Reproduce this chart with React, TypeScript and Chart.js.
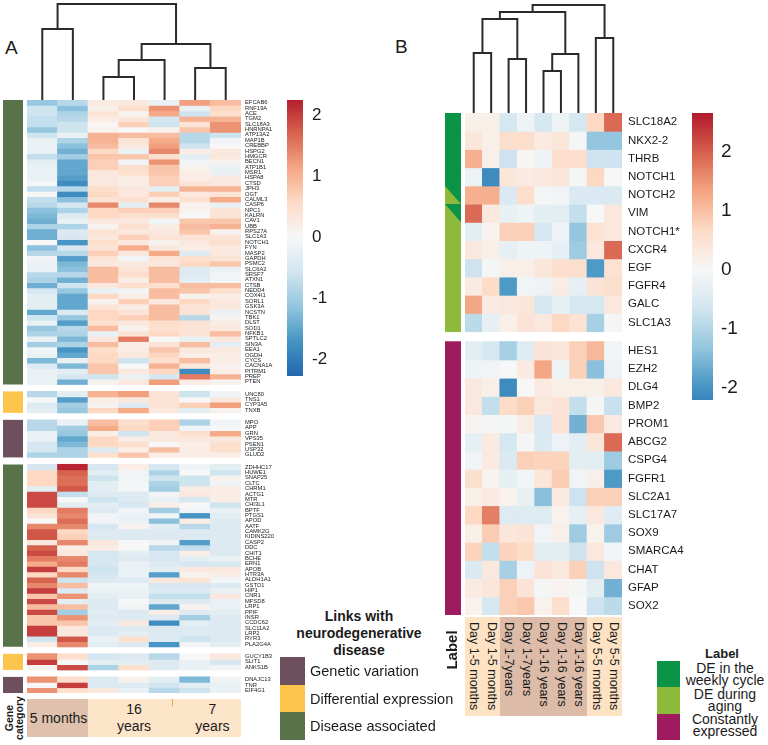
import React, { useEffect, useRef } from 'react';
import { Chart, registerables } from 'chart.js';
Chart.register(...registerables);

const FONT = '"Liberation Sans", Arial, Helvetica, sans-serif';

// ---------------- Panel A data ----------------
const A_COLUMNS = ['5 months #1', '5 months #2', '16 years #1', '16 years #2', '16 years #3', '7 years #1', '7 years #2'];
const A_GROUPS = ['5 months', '16 years', '7 years'];
const A_GROUP_SPANS = [2, 3, 2];

const A_B1_GENES = ['EFCAB6','RNF19A','ACE','TGM2','SLC18A3','HNRNPA1','ATP13A2','MAP1B','CREBBP','HSPG2','HMGCR','BECN1','ATP1B1','MSR1','HSPA8','CTSD','JPH3','OGT','CALML3','CASP6','NPC1','KALRN','CAV1','UBB','RPS27A','SLC1A3','NOTCH1','FYN','MASP2','GAPDH','PSMC2','SLC6A2','SRSF7','ATXN1','CTSB','NEDD4','COX4I1','SORL1','GSK3A','NCSTN','TBK1','DLST','SOD1','NFKB1','SPTLC2','SIN3A','EEA1','OGDH','CYCS','CACNA1A','PITRM1','PREP','PTEN'];
const A_B1_VALUES = [
  [-1.1,-0.8,0.25,0.3,-0.2,1.2,0.9],
  [-0.6,-1.2,0.15,0.5,1.3,-0.2,0.6],
  [-0.6,-0.9,0.4,0.1,1.1,-0.6,0.5],
  [-0.7,-0.8,0.2,0.35,-0.5,1.0,1.0],
  [-0.7,-0.6,0.05,0.7,-0.6,0.4,1.3],
  [-1.1,-0.6,0.1,0.0,0.1,0.8,1.3],
  [-0.6,-0.2,1.0,0.9,0.9,-0.8,-0.6],
  [-0.2,-0.9,1.0,0.4,1.1,-0.8,-0.1],
  [-0.2,-1.2,0.9,0.3,1.2,-0.6,0.0],
  [-0.2,-1.4,0.6,-0.2,1.4,0.2,0.3],
  [-0.7,-1.0,0.8,0.8,0.5,-0.3,0.3],
  [-0.3,-1.5,0.7,-0.1,1.3,-0.1,0.1],
  [-0.2,-1.5,0.7,0.5,0.8,0.1,-0.2],
  [-0.2,-1.5,0.3,0.5,0.8,0.2,-0.2],
  [-0.2,-1.6,0.3,0.2,0.7,0.2,0.3],
  [-0.05,-1.8,0.3,0.2,0.7,0.4,0.3],
  [-0.7,-0.8,0.5,0.3,-0.3,1.0,1.0],
  [0.0,-1.8,0.6,0.3,0.7,0.3,0.4],
  [-0.7,-1.2,0.4,0.5,0.2,0.5,1.1],
  [-0.8,-0.5,1.4,-0.3,1.4,0.1,-0.2],
  [-1.2,-0.9,0.6,0.7,0.7,0.1,0.4],
  [-1.3,-0.4,0.6,0.5,0.5,0.0,0.4],
  [-1.4,-0.2,0.3,0.3,-0.1,0.8,0.8],
  [-0.9,-0.9,0.1,0.5,0.2,0.9,1.0],
  [-1.4,-0.4,0.4,0.3,0.3,0.8,0.1],
  [-1.4,-0.5,0.3,0.7,0.4,0.4,0.4],
  [0.0,-1.7,0.5,0.3,0.1,0.3,0.5],
  [-1.2,-0.5,0.4,1.1,0.3,0.2,0.3],
  [-0.8,-0.8,0.7,0.3,1.1,-0.4,0.3],
  [-0.1,-1.6,0.4,-0.1,0.4,0.5,0.4],
  [-0.2,-1.3,0.3,0.3,0.3,0.6,0.8],
  [-0.2,-1.2,0.9,0.4,0.9,-0.4,-0.2],
  [-0.8,-0.8,0.9,0.5,0.9,-0.4,-0.1],
  [-0.9,-1.4,0.9,0.2,0.9,-0.3,-0.1],
  [-1.4,-0.6,0.3,0.5,0.5,0.9,0.9],
  [-0.5,-1.1,-0.2,-0.1,0.9,0.8,0.5],
  [-0.3,-1.5,0.6,0.2,0.9,0.1,0.2],
  [-0.3,-1.5,0.1,0.7,0.3,0.6,0.3],
  [-0.3,-1.5,0.4,0.2,0.9,0.4,0.3],
  [-1.5,-0.4,0.6,0.4,0.9,0.4,-0.2],
  [-0.6,-1.1,0.6,0.7,0.9,-0.8,0.1],
  [-0.2,-1.6,0.5,0.3,0.5,0.4,0.2],
  [-1.1,-0.8,0.9,0.1,0.5,0.4,0.3],
  [-0.9,-0.9,-0.2,0.4,0.6,0.4,0.9],
  [-0.2,-1.3,0.3,1.5,0.0,-0.2,0.3],
  [-1.0,-0.9,0.9,0.2,0.4,0.9,-0.3],
  [-0.1,-1.7,0.5,0.2,0.8,0.3,0.3],
  [-0.2,-1.5,0.6,0.3,0.6,0.2,0.2],
  [-1.3,-0.2,0.6,-0.6,0.5,0.9,0.2],
  [-0.4,-1.3,0.8,0.0,1.0,0.3,0.1],
  [-0.2,-0.3,0.8,0.3,0.6,-1.8,0.2],
  [-0.2,-0.5,-0.6,-0.2,-0.5,1.5,1.0],
  [-0.2,-1.4,0.1,0.3,1.2,0.2,0.1],
];
const A_B2_GENES = ['UNC80','TNS1','CYP3A5','TNXB'];
const A_B2_VALUES = [
  [-0.8,-0.3,1.0,1.2,0.4,-0.6,-0.1],
  [0.0,-1.6,0.2,0.3,0.4,0.0,0.3],
  [-0.4,-1.0,0.1,-0.4,0.4,0.7,1.2],
  [-0.3,-1.1,0.6,1.1,0.3,-0.3,0.1],
];
const A_B3_GENES = ['MPO','APP','GRN','VPS35','PSEN1','USP32','GLUD2'];
const A_B3_VALUES = [
  [-0.8,-0.2,0.9,0.5,0.7,-0.9,-0.1],
  [-0.8,-1.0,1.1,0.6,0.7,-0.1,0.0],
  [-0.2,-1.1,0.2,-0.6,0.3,0.5,1.1],
  [-0.2,-1.5,0.6,0.2,0.3,0.3,0.3],
  [-0.5,-1.3,0.6,0.5,0.0,0.2,0.5],
  [-0.5,-0.9,-0.4,0.2,0.9,0.2,0.5],
  [-0.9,-0.9,0.5,0.8,0.2,0.2,0.2],
];
const A_B4_GENES = ['ZDHHC17','HUWE1','SNAP25','CLTC','CHRM1','ACTG1','MTR','CHI3L1','BPTF','PTGS1','APOD','AATF','CAMK2G','KIDINS220','CASP2','DDC','CHIT1','BCHE','ERN1','APOB','HTR3A','ALDH1A1','GSTO1','HIP1','CNR1','MFSD8','LRP1','PPIF','INSR','CCDC62','SLC11A2','LRP2','RYR3','PLA2G4A'];
const A_B4_VALUES = [
  [-0.5,2.2,-0.5,0.2,-0.5,-0.1,-0.3],
  [0.6,1.7,-0.3,-0.1,-0.9,0.0,-0.6],
  [0.6,1.6,-0.6,-0.1,-0.6,-0.6,0.1],
  [0.6,1.6,-0.3,-0.05,-0.9,-0.6,-0.1],
  [-0.3,1.8,-0.3,-0.05,-1.0,0.2,0.2],
  [1.9,-0.7,-0.4,-0.4,-0.1,0.3,0.2],
  [1.9,0.0,-0.6,-0.4,-0.2,-0.5,0.2],
  [1.9,-0.3,-0.3,-0.5,0.2,0.0,-0.6],
  [0.6,1.5,-0.4,-0.1,-1.0,-0.1,-0.2],
  [0.4,1.4,-0.1,-0.2,-0.1,-1.7,-0.3],
  [0.0,1.6,-0.1,-0.2,-1.2,0.2,-0.4],
  [1.4,1.4,-0.5,0.1,-0.3,-0.8,-0.4],
  [1.8,0.6,-0.4,-0.4,-0.4,-0.4,-0.4],
  [1.8,0.7,-0.4,-0.4,-0.4,-0.4,-0.4],
  [0.3,1.4,0.3,0.0,-0.1,-1.6,-0.4],
  [1.7,0.2,0.2,0.0,-0.8,-0.7,-0.4],
  [1.9,0.3,-0.5,-0.3,-0.5,0.2,-0.4],
  [1.5,1.4,-0.5,-0.4,-0.5,-0.3,-0.2],
  [1.1,1.5,-0.5,-0.2,-0.4,-0.5,-0.5],
  [2.0,0.6,-0.6,-0.2,-0.3,0.3,0.3],
  [0.6,1.4,-0.5,-0.2,-1.6,0.1,0.2],
  [1.7,-0.6,-0.4,-0.4,0.3,0.4,-0.1],
  [1.4,0.9,-0.1,-0.1,-0.5,-0.5,-0.4],
  [2.0,-0.4,-0.2,-0.2,-0.4,-0.4,-0.2],
  [0.8,1.3,-0.3,-0.2,-0.7,-0.7,0.3],
  [1.9,-0.3,-0.4,0.0,-0.4,-0.4,-0.2],
  [0.9,0.9,-0.4,-0.1,-1.5,0.1,-0.2],
  [1.9,-1.0,-0.3,-0.4,0.2,-0.4,-0.3],
  [0.8,1.3,-0.4,-0.4,-0.4,-1.0,-0.4],
  [0.8,0.8,-0.3,0.3,-1.8,-0.3,-0.4],
  [2.0,0.3,-0.4,-0.4,-0.4,-0.4,-0.4],
  [2.0,0.3,-0.4,-0.3,-0.4,-0.4,-0.4],
  [-0.6,1.8,-0.2,0.5,-0.4,-0.6,-0.4],
  [0.2,1.4,-0.3,-0.4,-1.7,-0.1,-0.3],
];
const A_B5_GENES = ['GUCY1B3','SLIT1','ANKS1B'];
const A_B5_VALUES = [
  [1.3,0.5,-0.5,-0.4,-0.8,0.0,0.3],
  [2.0,0.0,-0.3,-0.3,-0.4,-0.2,-0.5],
  [0.1,1.9,-0.9,0.5,-0.4,-0.2,-0.1],
];
const A_B6_GENES = ['DNAJC13','TNR','EIF4G1'];
const A_B6_VALUES = [
  [1.3,0.5,-0.4,0.1,-0.3,-1.3,-0.1],
  [0.0,2.0,-0.4,-0.4,-0.6,-0.3,-0.2],
  [1.3,0.5,0.3,-0.2,-0.8,-0.6,-0.2],
];
const A_CATEGORY_NAMES = ['Genetic variation', 'Differential expression', 'Disease associated'];
const A_CATEGORY_COLORS = ['#6d4f5e', '#fec54c', '#587349'];
const A_BLOCK_CATEGORY = [2, 1, 0, 2, 1, 0];
const A_COLORBAR_TICKS = [2, 1, 0, -1, -2];
// dendrogram: leaves 0..6, merge k gets id 7+k
const A_LINK_LEFT = [0, 2, 8, 5, 9, 7];
const A_LINK_RIGHT = [1, 3, 4, 6, 10, 11];
const A_LINK_HEIGHT = [71, 23, 40, 32, 56, 96];

// ---------------- Panel B data ----------------
const B_COLUMNS = ['Day 1-5 months', 'Day 1-5 months', 'Day 1-7years', 'Day 1-7years', 'Day 1-16 years', 'Day 1-16 years', 'Day 1-16 years', 'Day 5-5 months', 'Day 5-5 months'];
const B_COLUMN_SHADE = [0, 0, 1, 1, 1, 1, 1, 0, 0];
const B_B1_GENES = ['SLC18A2','NKX2-2','THRB','NOTCH1','NOTCH2','VIM','NOTCH1*','CXCR4','EGF','FGFR4','GALC','SLC1A3'];
const B_B1_LABELS = ['weekly','weekly','weekly','weekly','both','both','aging','aging','aging','aging','aging','aging'];
const B_B1_VALUES = [
  [0.2,0.2,-0.6,-0.15,-0.6,-0.15,-0.6,0.7,1.9],
  [0.4,0.2,0.6,0.6,0.3,0.4,-0.05,-1.3,-1.3],
  [1.2,0.2,-0.7,0.05,-0.15,0.6,0.6,-0.7,-0.7],
  [-0.2,-2.1,0.4,0.3,0.35,0.4,-0.05,0.7,0.0],
  [1.2,1.2,-0.5,0.6,-0.05,-0.1,-0.5,-0.5,-0.5],
  [1.9,0.35,-0.25,-0.15,-0.35,-0.35,-0.8,0.0,0.35],
  [-0.35,0.1,0.8,0.8,-0.6,-0.2,-1.3,0.5,0.35],
  [0.35,0.2,-0.3,-0.15,-0.15,-0.3,-1.2,0.35,1.9],
  [-0.7,-0.05,0.2,0.2,0.4,0.6,0.6,-1.9,0.5],
  [0.3,0.65,-1.9,-0.1,-0.2,0.25,-0.3,0.45,0.6],
  [1.3,0.3,0.35,0.4,-0.6,-0.3,-0.6,-0.6,0.35],
  [-0.9,-0.3,0.2,0.45,0.35,0.7,0.5,-1.1,-0.05],
];
const B_B2_GENES = ['HES1','EZH2','DLG4','BMP2','PROM1','ABCG2','CSPG4','FGFR1','SLC2A1','SLC17A7','SOX9','SMARCA4','CHAT','GFAP','SOX2'];
const B_B2_LABELS = B_B2_GENES.map(() => 'constant');
const B_B2_VALUES = [
  [-0.35,-0.55,-1.1,-0.45,0.45,0.4,0.8,1.1,-0.1],
  [-0.15,-0.1,0.0,0.3,1.3,-0.15,0.8,-1.4,-0.2],
  [0.35,0.2,-2.1,0.0,0.3,0.2,0.2,0.2,0.35],
  [0.35,-0.8,0.65,0.8,0.35,0.45,-0.8,-0.05,-0.75],
  [0.1,-0.05,-0.05,0.25,-0.5,0.5,-1.6,0.9,0.3],
  [-0.3,0.3,-0.6,-0.05,-0.5,-0.2,-0.35,0.4,1.9],
  [-0.1,0.3,-0.5,0.8,0.75,0.75,-0.35,-0.35,-1.2],
  [0.55,0.1,-0.3,-0.1,0.4,0.85,-0.1,0.2,-1.9],
  [0.2,0.3,0.15,-0.25,-1.4,0.3,-0.7,0.8,0.8],
  [0.7,1.7,-0.45,-0.45,-0.45,0.15,-0.3,0.35,-0.4],
  [0.2,0.85,0.4,0.45,-0.1,0.2,-1.2,0.15,-1.2],
  [0.75,-0.8,0.75,0.65,-0.35,-0.35,-0.7,0.35,-0.1],
  [-0.5,0.35,-1.1,-0.2,0.45,0.35,0.8,-0.7,0.35],
  [0.3,0.4,0.8,0.45,-0.05,0.1,-0.05,-0.35,-1.6],
  [0.15,-0.6,0.8,0.9,0.15,0.6,0.0,-0.7,-0.9],
];
const B_LABEL_NAMES = ['DE in the\nweekly cycle', 'DE during\naging', 'Constantly\nexpressed'];
const B_LABEL_COLORS: Record<string, string> = { weekly: '#0b9447', aging: '#8dba3a', both: '#8dba3a', constant: '#9d1b5e' };
const B_COLORBAR_TICKS = [2, 1, 0, -1, -2];
const B_LINK_LEFT = [0, 2, 9, 4, 12, 11, 7, 14];
const B_LINK_RIGHT = [1, 3, 10, 5, 6, 13, 8, 15];
const B_LINK_HEIGHT = [60, 54, 94, 42, 59, 101, 75, 108];

// ---------------- layout ----------------
const A_VMAX = 2.3;
const B_VMAX = 2.66;
const A_GAP = 1.3;
const B_GAP = 0.55;
const A_HM = { left: 27, top: 100, width: 214, height: 593, pad: 42 };
const A_DEN = { left: 27, top: 0, width: 214, height: 100 };
const A_SIDE = { left: 3, top: 100, width: 20, height: 593 };
const A_CBAR = { left: 287, top: 100, width: 16, height: 276, pad: 34, lo: -2.28, hi: 2.25 };
const B_HM = { left: 465, top: 113, width: 157, height: 502, pad: 70 };
const B_DEN = { left: 465, top: 0, width: 157, height: 113 };
const B_SIDE = { left: 445, top: 113, width: 16, height: 502 };
const B_CBAR = { left: 692, top: 113, width: 21, height: 287, pad: 40, lo: -2.2, hi: 2.66 };

const RDBU = ['#2166ac', '#4393c3', '#92c5de', '#d1e5f0', '#f7f7f7', '#fddbc7', '#f4a582', '#d6604d', '#b2182b'];
function hexRgb(h: string) {
  return [parseInt(h.slice(1, 3), 16), parseInt(h.slice(3, 5), 16), parseInt(h.slice(5, 7), 16)];
}
function cmap(v: number, vmax: number) {
  const t = Math.max(0, Math.min(1, (v / vmax + 1) / 2)) * (RDBU.length - 1);
  const i = Math.min(RDBU.length - 2, Math.floor(t));
  const f = t - i;
  const a = hexRgb(RDBU[i]);
  const b = hexRgb(RDBU[i + 1]);
  const c = a.map((x, k) => Math.round(x + (b[k] - x) * f));
  return `rgb(${c[0]},${c[1]},${c[2]})`;
}

const BASE: any = {
  responsive: false,
  animation: false,
  devicePixelRatio: 1,
  events: [],
  plugins: { legend: { display: false }, tooltip: { enabled: false } },
};

type Block = { genes: string[]; values: number[][]; labels?: string[] };

function heatmapConfig(columns: string[], blocks: Block[], gap: number, vmax: number, pad: number, font: string, offset: number) {
  const datasets: any[] = [];
  const rows: { name: string; center: number }[] = [];
  let acc = 0;
  blocks.forEach((b, bi) => {
    if (bi > 0) {
      datasets.push({ data: columns.map(() => gap), backgroundColor: 'rgba(0,0,0,0)' });
      acc += gap;
    }
    b.genes.forEach((g, ri) => {
      datasets.push({ label: g, data: columns.map(() => 1), backgroundColor: b.values[ri].map((v) => cmap(v, vmax)) });
      rows.push({ name: g, center: acc + 0.5 });
      acc += 1;
    });
  });
  const labelPlugin = {
    id: 'rowLabels',
    afterDraw(chart: any) {
      const { ctx, chartArea, scales } = chart;
      ctx.save();
      ctx.font = font;
      ctx.fillStyle = '#1b1b1b';
      ctx.textAlign = 'left';
      ctx.textBaseline = 'middle';
      rows.forEach((r) => ctx.fillText(r.name, chartArea.right + offset, scales.y.getPixelForValue(r.center)));
      ctx.restore();
    },
  };
  return {
    type: 'bar',
    data: { labels: columns, datasets },
    options: {
      ...BASE,
      layout: { padding: { right: pad } },
      datasets: { bar: { barPercentage: 1, categoryPercentage: 1, borderWidth: 0, inflateAmount: 0.45 } },
      scales: {
        x: { display: false, stacked: true },
        y: { display: false, stacked: true, min: 0, max: acc, reverse: true },
      },
    },
    plugins: [labelPlugin],
  };
}

function dendroConfig(n: number, left: number[], right: number[], height: number[], ymax: number) {
  const pos: number[] = [];
  const h: number[] = [];
  for (let i = 0; i < n; i++) {
    pos.push(i + 0.5);
    h.push(0);
  }
  const datasets: any[] = [];
  left.forEach((l, k) => {
    const r = right[k];
    const hh = height[k];
    datasets.push({
      data: [
        { x: pos[l], y: h[l] },
        { x: pos[l], y: hh },
        { x: pos[r], y: hh },
        { x: pos[r], y: h[r] },
      ],
      showLine: true,
      borderColor: '#2b2b2b',
      borderWidth: 2,
      pointRadius: 0,
      tension: 0,
      clip: false,
    });
    pos.push((pos[l] + pos[r]) / 2);
    h.push(hh);
  });
  return {
    type: 'scatter',
    data: { datasets },
    options: {
      ...BASE,
      scales: {
        x: { type: 'linear', display: false, min: 0, max: n },
        y: { type: 'linear', display: false, min: 0, max: ymax },
      },
    },
  };
}

function colorbarConfig(lo: number, hi: number, vmax: number, ticks: number[], pad: number, font: string, offset: number) {
  const tickPlugin = {
    id: 'cbTicks',
    afterDraw(chart: any) {
      const { ctx, chartArea, scales } = chart;
      ctx.save();
      ctx.font = font;
      ctx.fillStyle = '#1b1b1b';
      ctx.textAlign = 'left';
      ctx.textBaseline = 'middle';
      ticks.forEach((t) => ctx.fillText(String(t).replace('-', '-'), chartArea.right + offset, scales.y.getPixelForValue(t)));
      ctx.restore();
    },
  };
  return {
    type: 'bar',
    data: {
      labels: ['z-score'],
      datasets: [
        {
          data: [[lo, hi]],
          borderWidth: 0,
          barPercentage: 1,
          categoryPercentage: 1,
          backgroundColor: (c: any) => {
            const chart = c.chart;
            if (!chart.chartArea) return RDBU[4];
            const y = chart.scales.y;
            const g = chart.ctx.createLinearGradient(0, y.getPixelForValue(-vmax), 0, y.getPixelForValue(vmax));
            RDBU.forEach((col, k) => g.addColorStop(k / (RDBU.length - 1), col));
            return g;
          },
        },
      ],
    },
    options: {
      ...BASE,
      layout: { padding: { right: pad } },
      scales: {
        x: { display: false },
        y: { display: false, min: lo, max: hi },
      },
    },
    plugins: [tickPlugin],
  };
}

function sideConfigA(blocks: Block[], gap: number) {
  const datasets: any[] = [];
  let acc = 0;
  blocks.forEach((b, bi) => {
    if (bi > 0) {
      datasets.push({ data: [gap], backgroundColor: 'rgba(0,0,0,0)' });
      acc += gap;
    }
    datasets.push({ label: A_CATEGORY_NAMES[A_BLOCK_CATEGORY[bi]], data: [b.genes.length], backgroundColor: A_CATEGORY_COLORS[A_BLOCK_CATEGORY[bi]] });
    acc += b.genes.length;
  });
  return {
    type: 'bar',
    data: { labels: ['Gene category'], datasets },
    options: {
      ...BASE,
      datasets: { bar: { barPercentage: 1, categoryPercentage: 1, borderWidth: 0, inflateAmount: 0 } },
      scales: {
        x: { display: false, stacked: true },
        y: { display: false, stacked: true, min: 0, max: acc, reverse: true },
      },
    },
  };
}

function sideConfigB(blocks: Block[], gap: number) {
  const datasets: any[] = [];
  const kinds: string[] = [];
  let acc = 0;
  blocks.forEach((b, bi) => {
    if (bi > 0) {
      datasets.push({ data: [gap], backgroundColor: 'rgba(0,0,0,0)' });
      kinds.push('gap');
      acc += gap;
    }
    (b.labels || []).forEach((lab) => {
      datasets.push({ label: lab, data: [1], backgroundColor: B_LABEL_COLORS[lab] });
      kinds.push(lab);
      acc += 1;
    });
  });
  const triPlugin = {
    id: 'splitCells',
    afterDatasetsDraw(chart: any) {
      const { ctx } = chart;
      ctx.save();
      kinds.forEach((k, i) => {
        if (k !== 'both') return;
        const el = chart.getDatasetMeta(i).data[0];
        const l = el.x - el.width / 2;
        const r = el.x + el.width / 2;
        const t = Math.min(el.y, el.base);
        const b = Math.max(el.y, el.base);
        ctx.fillStyle = B_LABEL_COLORS.weekly;
        ctx.beginPath();
        ctx.moveTo(l, t);
        ctx.lineTo(r, t);
        ctx.lineTo(r, b);
        ctx.closePath();
        ctx.fill();
      });
      ctx.restore();
    },
  };
  return {
    type: 'bar',
    data: { labels: ['Label'], datasets },
    options: {
      ...BASE,
      datasets: { bar: { barPercentage: 1, categoryPercentage: 1, borderWidth: 0, inflateAmount: 0.4 } },
      scales: {
        x: { display: false, stacked: true },
        y: { display: false, stacked: true, min: 0, max: acc, reverse: true },
      },
    },
    plugins: [triPlugin],
  };
}

function ChartBox({ box, make }: { box: any; make: () => any }) {
  const ref = useRef<HTMLCanvasElement>(null);
  useEffect(() => {
    const chart = new Chart(ref.current as HTMLCanvasElement, make());
    return () => chart.destroy();
  }, []);
  const w = box.width + (box.pad || 0);
  return (
    <canvas
      ref={ref}
      width={w}
      height={box.height}
      style={{ position: 'absolute', left: box.left, top: box.top, width: w, height: box.height }}
    />
  );
}

function Txt({ x, y, size = 13, bold = false, align = 'left', children, lh }: any) {
  const tx = align === 'center' ? '-50%' : '0';
  return (
    <div
      style={{
        position: 'absolute',
        left: x,
        top: y,
        transform: `translate(${tx},-50%)`,
        fontFamily: FONT,
        fontSize: size,
        fontWeight: bold ? 700 : 400,
        lineHeight: lh ? `${lh}px` : 1,
        whiteSpace: 'pre',
        textAlign: align,
        color: '#1b1b1b',
      }}
    >
      {children}
    </div>
  );
}

const A_BLOCKS: Block[] = [
  { genes: A_B1_GENES, values: A_B1_VALUES },
  { genes: A_B2_GENES, values: A_B2_VALUES },
  { genes: A_B3_GENES, values: A_B3_VALUES },
  { genes: A_B4_GENES, values: A_B4_VALUES },
  { genes: A_B5_GENES, values: A_B5_VALUES },
  { genes: A_B6_GENES, values: A_B6_VALUES },
];
const B_BLOCKS: Block[] = [
  { genes: B_B1_GENES, values: B_B1_VALUES, labels: B_B1_LABELS },
  { genes: B_B2_GENES, values: B_B2_VALUES, labels: B_B2_LABELS },
];

export default function App() {
  const aColW = A_HM.width / A_COLUMNS.length;
  const bColW = B_HM.width / B_COLUMNS.length;
  let accCols = 0;
  const aGroupBoxes = A_GROUPS.map((g, i) => {
    const left = A_HM.left + accCols * aColW;
    const w = A_GROUP_SPANS[i] * aColW;
    accCols += A_GROUP_SPANS[i];
    return { g, left, w };
  });
  return (
    <div style={{ position: 'absolute', left: 0, top: 0, width: 768, height: 745, background: '#fff', overflow: 'hidden' }}>
      {/* Panel A */}
      <ChartBox box={A_DEN} make={() => dendroConfig(A_COLUMNS.length, A_LINK_LEFT, A_LINK_RIGHT, A_LINK_HEIGHT, A_DEN.height)} />
      <ChartBox box={A_SIDE} make={() => sideConfigA(A_BLOCKS, A_GAP)} />
      <ChartBox box={A_HM} make={() => heatmapConfig(A_COLUMNS, A_BLOCKS, A_GAP, A_VMAX, A_HM.pad, `5.8px ${FONT}`, 4)} />
      <ChartBox box={A_CBAR} make={() => colorbarConfig(A_CBAR.lo, A_CBAR.hi, A_VMAX, A_COLORBAR_TICKS, A_CBAR.pad, `17px ${FONT}`, 9)} />
      <Txt x={5} y={47} size={19}>A</Txt>

      {/* A column groups */}
      {aGroupBoxes.map((b, i) => (
        <div
          key={i}
          style={{
            position: 'absolute',
            left: b.left,
            top: 699,
            width: b.w,
            height: 38,
            background: i === 0 ? '#dfc1ae' : '#fde5c9',
          }}
        />
      ))}
      <div style={{ position: 'absolute', left: 172, top: 699, width: 1, height: 7, background: '#e9a64a' }} />
      <Txt x={aGroupBoxes[0].left + aGroupBoxes[0].w / 2 + 1} y={718} size={14} align="center">{A_GROUPS[0]}</Txt>
      <Txt x={aGroupBoxes[1].left + aGroupBoxes[1].w / 2} y={718} size={14} align="center" lh={17}>{A_GROUPS[1].replace(' ', '\n')}</Txt>
      <Txt x={aGroupBoxes[2].left + aGroupBoxes[2].w / 2 + 2} y={718} size={14} align="center" lh={17}>{A_GROUPS[2].replace(' ', '\n')}</Txt>
      <div
        style={{
          position: 'absolute',
          left: 14,
          top: 718,
          transform: 'translate(-50%,-50%) rotate(-90deg)',
          fontFamily: FONT,
          fontSize: 10.5,
          fontWeight: 700,
          lineHeight: '10px',
          whiteSpace: 'pre',
          textAlign: 'center',
          color: '#1b1b1b',
        }}
      >
        {'Gene\ncategory'}
      </div>

      {/* A legend */}
      <Txt x={359} y={633} size={14} bold align="center" lh={17}>{'Links with\nneurodegenerative\ndisease'}</Txt>
      {A_CATEGORY_NAMES.map((n, i) => (
        <React.Fragment key={n}>
          <div style={{ position: 'absolute', left: 280, top: 657 + i * 27.7, width: 25, height: 27.7, background: A_CATEGORY_COLORS[i] }} />
          <Txt x={310} y={671 + i * 27.7} size={14.5}>{n}</Txt>
        </React.Fragment>
      ))}

      {/* Panel B */}
      <ChartBox box={B_DEN} make={() => dendroConfig(B_COLUMNS.length, B_LINK_LEFT, B_LINK_RIGHT, B_LINK_HEIGHT, B_DEN.height)} />
      <ChartBox box={B_SIDE} make={() => sideConfigB(B_BLOCKS, B_GAP)} />
      <ChartBox box={B_HM} make={() => heatmapConfig(B_COLUMNS, B_BLOCKS, B_GAP, B_VMAX, B_HM.pad, `11.5px ${FONT}`, 6)} />
      <ChartBox box={B_CBAR} make={() => colorbarConfig(B_CBAR.lo, B_CBAR.hi, B_VMAX, B_COLORBAR_TICKS, B_CBAR.pad, `19px ${FONT}`, 8)} />
      <Txt x={395} y={46} size={19}>B</Txt>

      {B_COLUMNS.map((c, i) => (
        <div
          key={i}
          style={{
            position: 'absolute',
            left: B_HM.left + i * bColW,
            top: 617,
            width: bColW,
            height: 99,
            background: B_COLUMN_SHADE[i] ? '#dcbca8' : '#fde3c4',
            writingMode: 'vertical-rl',
            fontFamily: FONT,
            fontSize: 12.5,
            lineHeight: `${bColW}px`,
            paddingTop: 5,
            boxSizing: 'border-box',
            whiteSpace: 'nowrap',
            color: '#1b1b1b',
          }}
        >
          {c}
        </div>
      ))}
      <div
        style={{
          position: 'absolute',
          left: 451,
          top: 650,
          transform: 'translate(-50%,-50%) rotate(-90deg)',
          fontFamily: FONT,
          fontSize: 15,
          fontWeight: 700,
          lineHeight: 1,
          color: '#1b1b1b',
        }}
      >
        Label
      </div>

      {/* B legend */}
      <Txt x={722} y={653} size={13} bold align="center">Label</Txt>
      {['weekly', 'aging', 'constant'].map((k, i) => (
        <React.Fragment key={k}>
          <div style={{ position: 'absolute', left: 657, top: 661 + i * 26.3, width: 23, height: 26.3, background: B_LABEL_COLORS[k] }} />
          <Txt x={725} y={674 + i * 25.5} size={14} align="center" lh={12}>{B_LABEL_NAMES[i]}</Txt>
        </React.Fragment>
      ))}
    </div>
  );
}
